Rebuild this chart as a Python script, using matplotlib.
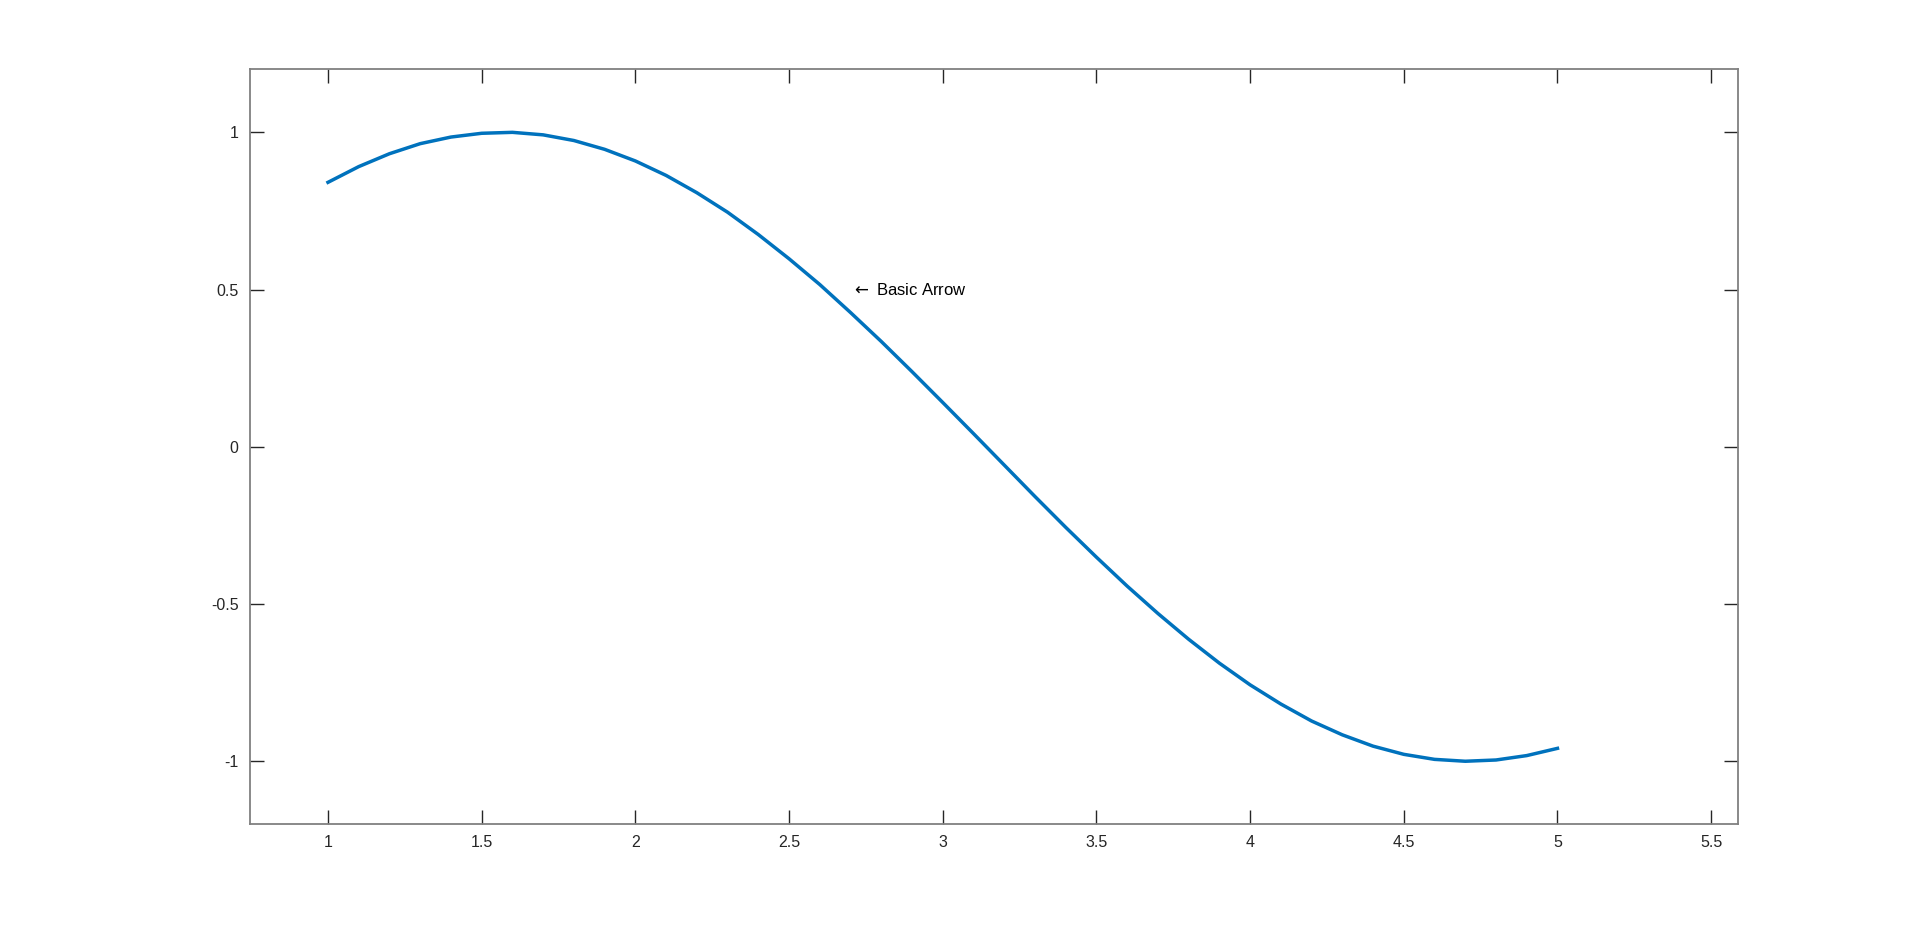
import matplotlib
matplotlib.use("Agg")
import matplotlib.pyplot as plt

plt.rcParams['font.family'] = ['Liberation Sans', 'DejaVu Sans']
plt.rcParams['axes.unicode_minus'] = False
plt.rcParams['mathtext.fontset'] = 'dejavusans'

# Data
x_vals = [1.0, 1.1, 1.2, 1.3, 1.4, 1.5, 1.6, 1.7, 1.8, 1.9,
          2.0, 2.1, 2.2, 2.3, 2.4, 2.5, 2.6, 2.7, 2.8, 2.9,
          3.0, 3.1, 3.2, 3.3, 3.4, 3.5, 3.6, 3.7, 3.8, 3.9,
          4.0, 4.1, 4.2, 4.3, 4.4, 4.5, 4.6, 4.7, 4.8, 4.9, 5.0]
y_vals = [0.841, 0.891, 0.932, 0.964, 0.985, 0.997, 1.000, 0.992, 0.974, 0.946,
          0.909, 0.863, 0.808, 0.746, 0.675, 0.598, 0.516, 0.427, 0.335, 0.239,
          0.141, 0.042, -0.058, -0.158, -0.256, -0.351, -0.443, -0.530, -0.612, -0.688,
          -0.757, -0.818, -0.872, -0.916, -0.952, -0.978, -0.994, -1.000, -0.996, -0.982, -0.959]
x_ticks = [1, 1.5, 2, 2.5, 3, 3.5, 4, 4.5, 5, 5.5]
x_labels = ["1", "1.5", "2", "2.5", "3", "3.5", "4", "4.5", "5", "5.5"]
y_ticks = [-1, -0.5, 0, 0.5, 1]
y_labels = ["-1", "-0.5", "0", "0.5", "1"]
note_text = r"$\leftarrow$ Basic Arrow"
note_x, note_y = 2.7, 0.5

fig = plt.figure(figsize=(19.2, 9.26), dpi=100)
ax = fig.add_axes([0.13, 0.11, 0.775, 0.815])

ax.plot(x_vals, y_vals, color="#0072BD", linewidth=2.5)
ax.text(note_x, note_y, note_text, fontsize=12, ha="left", va="center", color="black")

ax.set_xlim(0.745, 5.586)
ax.set_ylim(-1.2, 1.2)
ax.set_xticks(x_ticks)
ax.set_xticklabels(x_labels)
ax.set_yticks(y_ticks)
ax.set_yticklabels(y_labels)

ax.tick_params(direction="in", length=10, width=1, colors="#262626",
               labelsize=11.5, top=True, right=True, pad=8)
for s in ax.spines.values():
    s.set_color("#808080")
    s.set_linewidth(1.3)

fig.savefig("out.png", dpi=100, facecolor="white")
